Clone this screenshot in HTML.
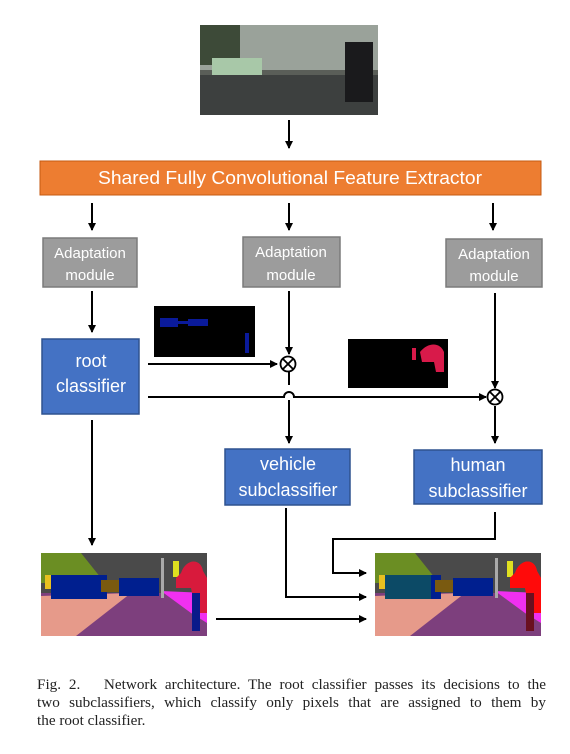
<!DOCTYPE html>
<html><head><meta charset="utf-8"><style>
html,body{margin:0;padding:0;background:#fff;}
svg{display:block}
.cap{position:absolute;left:37px;top:676px;width:509px;font-family:"Liberation Serif",serif;font-size:15.2px;line-height:18px;color:#222;}
.cap .j{display:block;text-align:justify;text-align-last:justify;white-space:nowrap;}
.cap .l{display:block;white-space:nowrap;}
</style></head><body>
<div style="position:relative;width:570px;height:754px;overflow:hidden">
<svg width="570" height="754" viewBox="0 0 570 754" xmlns="http://www.w3.org/2000/svg">
<defs>
<marker id="a" markerWidth="8" markerHeight="8" refX="7" refY="4" orient="auto" markerUnits="userSpaceOnUse">
<path d="M0,0 L8,4 L0,8 z" fill="#000"/></marker>
<g id="seg">
<rect x="0" y="0" width="166" height="83" fill="#4a4a4a"/>
<polygon points="0,0 40,0 60,25 40,30 0,30" fill="#6b8e23"/>
<rect x="0" y="40" width="166" height="43" fill="#7d3f7d"/>
<polygon points="0,43 90,40 35,83 0,83" fill="#e69a8a"/>
<polygon points="120,38 166,40 166,70 150,60" fill="#f030f0"/>
<rect x="10" y="22" width="56" height="24" fill="#001f8f"/>
<rect x="60" y="27" width="22" height="12" fill="#7a5a10"/>
<rect x="78" y="25" width="40" height="18" fill="#001f8f"/>
<rect x="120" y="5" width="3" height="40" fill="#aaa"/>
<rect x="4" y="22" width="6" height="14" fill="#e8c020"/>
<rect x="132" y="8" width="6" height="16" fill="#e0e020"/>
<path d="M140,20 C145,5 160,5 162,18 L166,25 L166,60 L155,60 L150,35 L135,35 L135,25 Z" fill="#d81a3c"/>
<rect x="151" y="40" width="8" height="38" fill="#0a1a8a"/>
</g>
</defs>
<rect x="200" y="25" width="178" height="90" fill="#5a5e58"/>
<rect x="200" y="25" width="178" height="45" fill="#9aa29a"/>
<rect x="200" y="25" width="40" height="40" fill="#3d4a38"/>
<rect x="212" y="58" width="50" height="18" fill="#a8c8a8"/>
<rect x="200" y="75" width="178" height="40" fill="#3d403f"/>
<rect x="345" y="42" width="28" height="60" fill="#1a1a1c"/>
<line x1="289" y1="120" x2="289" y2="148" stroke="#000" stroke-width="2" marker-end="url(#a)"/>
<rect x="40" y="161" width="501" height="34" fill="#ed7d31" stroke="#c55a11" stroke-width="1"/>
<text x="290" y="184" text-anchor="middle" font-family="Liberation Sans,sans-serif" font-size="18" fill="#fff" textLength="384" lengthAdjust="spacingAndGlyphs">Shared Fully Convolutional Feature Extractor</text>
<g stroke="#000" stroke-width="2" fill="none">
<line x1="92" y1="203" x2="92" y2="230" marker-end="url(#a)"/>
<line x1="289" y1="203" x2="289" y2="230" marker-end="url(#a)"/>
<line x1="493" y1="203" x2="493" y2="230" marker-end="url(#a)"/>
<line x1="92" y1="291" x2="92" y2="332" marker-end="url(#a)"/>
<line x1="289" y1="291" x2="289" y2="354" marker-end="url(#a)"/>
<line x1="495" y1="293" x2="495" y2="388" marker-end="url(#a)"/>
<line x1="148" y1="364" x2="277" y2="364" marker-end="url(#a)"/>
<path d="M148,397 L284,397 A5,5 0 0 1 294,397 L486,397" marker-end="url(#a)"/>
<path d="M289,372 L289,385 M289,400 L289,443" marker-end="url(#a)"/>
<line x1="495" y1="406" x2="495" y2="443" marker-end="url(#a)"/>
<line x1="92" y1="420" x2="92" y2="545" marker-end="url(#a)"/>
<line x1="216" y1="619" x2="366" y2="619" marker-end="url(#a)"/>
<path d="M286,508 L286,597 L366,597" marker-end="url(#a)"/>
<path d="M495,512 L495,539 L333,539 L333,573 L366,573" marker-end="url(#a)"/>
</g>
<g stroke="#000" stroke-width="1.8" fill="#fff">
<circle cx="288" cy="364" r="7.5"/><path d="M283,359 L293,369 M293,359 L283,369"/>
<circle cx="495" cy="397" r="7.5"/><path d="M490,392 L500,402 M500,392 L490,402"/>
</g>
<g fill="#9c9c9c" stroke="#7b7b7b" stroke-width="1.5">
<rect x="43" y="238" width="94" height="49"/>
<rect x="243" y="237" width="97" height="50"/>
<rect x="446" y="239" width="96" height="48"/>
</g>
<g font-family="Liberation Sans,sans-serif" font-size="15" fill="#fff" text-anchor="middle">
<text x="90" y="258">Adaptation</text><text x="90" y="280">module</text>
<text x="291" y="257">Adaptation</text><text x="291" y="280">module</text>
<text x="494" y="259">Adaptation</text><text x="494" y="281">module</text>
</g>
<g fill="#4472c4" stroke="#2f528f" stroke-width="1.5">
<rect x="42" y="339" width="97" height="75"/>
<rect x="225" y="449" width="125" height="56"/>
<rect x="414" y="450" width="128" height="54"/>
</g>
<g font-family="Liberation Sans,sans-serif" font-size="18" fill="#fff" text-anchor="middle">
<text x="91" y="367">root</text><text x="91" y="392">classifier</text>
<text x="288" y="470">vehicle</text><text x="288" y="496">subclassifier</text>
<text x="478" y="471">human</text><text x="478" y="497">subclassifier</text>
</g>
<rect x="154" y="306" width="101" height="51" fill="#000"/>
<rect x="160" y="318" width="18" height="9" fill="#0a1a9a"/>
<rect x="178" y="321" width="10" height="3" fill="#0a1a9a"/>
<rect x="188" y="319" width="20" height="7" fill="#0a1a9a"/>
<rect x="245" y="333" width="4" height="20" fill="#0a1a9a"/>
<rect x="348" y="339" width="100" height="49" fill="#000"/>
<path d="M420,352 C428,342 440,342 444,352 L444,372 L436,372 L434,362 L422,362 Z" fill="#d81a4a"/>
<rect x="412" y="348" width="4" height="12" fill="#d81a4a"/>
<use href="#seg" x="41" y="553"/>
<use href="#seg" x="375" y="553"/>
<rect x="385" y="575" width="46" height="24" fill="#0c4a66"/>
<path d="M515,573 C520,558 535,558 537,571 L541,578 L541,613 L530,613 L525,588 L510,588 L510,578 Z" fill="#ff0a0a"/>
<rect x="526" y="593" width="8" height="38" fill="#6a1020"/>
</svg>
<div class="cap"><span class="j">Fig. 2.&nbsp;&nbsp; Network architecture. The root classifier passes its decisions to the</span><span class="j">two subclassifiers, which classify only pixels that are assigned to them by</span><span class="l">the root classifier.</span></div>
</div>
</body></html>
